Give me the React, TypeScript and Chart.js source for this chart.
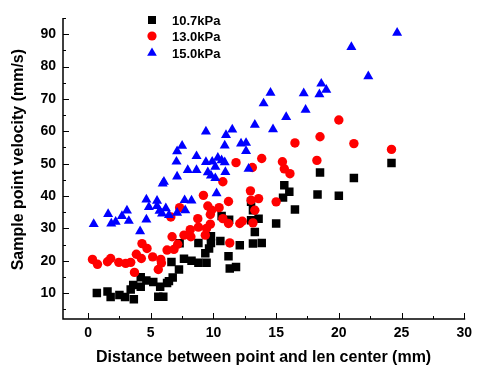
import React, { useEffect, useRef } from 'react';
import { Chart, registerables } from 'chart.js';

Chart.register(...registerables);

const FONT = '"Liberation Sans", Arial, Helvetica, sans-serif';

const seriesLabels = ['10.7kPa', '13.0kPa', '15.0kPa'];
const seriesColors = ['#000000', '#FF0000', '#0000FF'];

const xTitle = 'Distance between point and len center (mm)';
const yTitle = '\u00A0\u00A0\u00A0\u00A0Sample point velocity (mm/s)';

const xMin = -2;
const xMax = 30;
const xStep = 5;
const yMin = 2;
const yMax = 95;
const yStep = 10;

// 10.7 kPa (black squares)
const x107 = [0.7, 1.55, 1.8, 2.5, 2.95, 3.65, 3.4, 3.6, 4.2, 4.2, 4.65, 5.2, 5.75, 5.6, 6.0, 6.3, 6.45, 6.75, 6.65, 7.25, 7.65, 7.3, 8.25, 8.8, 8.8, 9.35, 9.45, 9.65, 9.8, 9.8, 10.55, 11.2, 11.3, 11.8, 12.1, 13.15, 13.85, 13.3, 13.0, 13.15, 13.6, 10.65, 11.25, 15.0, 16.5, 13.0, 15.55, 16.05, 15.65, 18.3, 20.0, 18.5, 21.2, 24.2];
const y107 = [10.0, 10.5, 8.8, 9.4, 8.8, 8.1, 11.1, 12.5, 14.9, 12.0, 13.9, 13.4, 12.0, 8.9, 8.9, 13.1, 13.7, 14.8, 19.6, 17.3, 20.6, 25.4, 20.0, 19.4, 25.5, 22.3, 19.4, 23.8, 25.5, 27.6, 26.1, 21.4, 17.6, 18.1, 24.8, 25.3, 25.5, 28.9, 32.5, 35.6, 33.0, 33.8, 32.7, 31.5, 35.8, 38.2, 39.5, 41.3, 43.3, 40.5, 40.1, 47.3, 45.6, 50.2];

// 13.0 kPa (red circles)
const x130 = [0.35, 0.75, 1.55, 1.8, 2.45, 3.0, 3.4, 3.7, 3.85, 4.25, 4.3, 4.7, 5.15, 5.6, 5.8, 5.85, 6.3, 6.7, 6.85, 7.15, 7.65, 8.15, 8.2, 8.8, 9.35, 9.45, 9.75, 8.75, 6.6, 7.3, 9.55, 9.85, 9.75, 10.45, 10.75, 11.2, 11.3, 11.2, 12.1, 12.3, 13.15, 13.3, 13.0, 13.6, 12.95, 15.0, 9.2, 10.75, 11.8, 13.1, 13.85, 15.5, 15.65, 16.1, 16.5, 18.25, 18.5, 20.0, 21.2, 24.2];
const y130 = [20.4, 18.9, 19.7, 20.7, 19.5, 19.2, 19.5, 16.4, 22.0, 20.7, 25.3, 23.8, 21.2, 17.3, 20.4, 19.3, 23.3, 27.4, 23.5, 25.1, 27.9, 29.6, 27.4, 30.4, 27.9, 30.0, 31.3, 33.0, 33.5, 36.4, 36.9, 35.6, 34.3, 36.4, 33.0, 38.3, 25.5, 31.5, 31.5, 32.2, 31.7, 35.6, 38.7, 39.2, 41.6, 38.2, 40.2, 44.4, 50.3, 48.8, 51.6, 50.6, 48.4, 46.9, 56.4, 51.0, 58.3, 63.5, 56.2, 54.4];

// 15.0 kPa (blue triangles)
const x150 = [0.45, 1.6, 1.85, 2.2, 2.7, 3.1, 3.25, 4.15, 4.65, 4.65, 4.85, 5.5, 5.5, 5.7, 5.9, 6.05, 5.95, 6.2, 6.45, 7.1, 7.75, 7.7, 8.25, 7.1, 7.05, 7.1, 7.5, 7.95, 8.65, 8.65, 9.4, 9.4, 9.55, 9.8, 9.9, 10.15, 10.15, 10.25, 10.35, 10.65, 10.9, 10.95, 10.9, 11.0, 11.5, 12.2, 12.6, 12.6, 12.8, 13.3, 14.75, 15.8, 14.0, 14.55, 17.2, 17.35, 18.45, 18.6, 19.0, 21.0, 22.35, 24.65];
const y150 = [31.3, 34.4, 31.5, 32.0, 33.8, 35.5, 32.3, 29.1, 32.7, 38.9, 36.6, 38.5, 36.9, 35.4, 34.6, 44.4, 43.8, 36.2, 34.1, 34.8, 35.6, 38.7, 38.6, 46.0, 50.6, 53.8, 55.5, 48.0, 48.0, 52.3, 59.9, 50.5, 47.3, 46.3, 50.6, 49.0, 45.5, 40.8, 51.8, 51.0, 50.4, 47.4, 55.6, 58.8, 60.5, 56.2, 56.4, 53.9, 48.4, 62.0, 60.6, 64.4, 68.6, 71.9, 71.7, 66.6, 71.4, 74.7, 72.8, 86.0, 77.0, 90.4];

const toPoints = (xs: number[], ys: number[]) => xs.map((x, i) => ({ x, y: ys[i] }));

const axisPlugin = {
  id: 'axisTicks',
  afterDraw(chart: any) {
    const { ctx, chartArea: a, scales } = chart;
    const xs = scales.x;
    const ys = scales.y;
    ctx.save();
    ctx.strokeStyle = '#000';
    ctx.lineWidth = 1.5;
    ctx.beginPath();
    ctx.moveTo(a.left, a.top);
    ctx.lineTo(a.left, a.bottom);
    ctx.lineTo(a.right + 1, a.bottom);
    ctx.stroke();
    ctx.lineWidth = 1;
    ctx.beginPath();
    for (let v = 0; v <= xMax + 1e-9; v += xStep / 2) {
      const p = Math.round(xs.getPixelForValue(v)) + 0.5;
      const len = Math.abs(v % xStep) < 1e-9 ? 6 : 3;
      ctx.moveTo(p, a.bottom);
      ctx.lineTo(p, a.bottom - len);
    }
    for (let v = 5; v <= yMax + 1e-9; v += yStep / 2) {
      const p = Math.round(ys.getPixelForValue(v)) + 0.5;
      const len = Math.abs(v % yStep) < 1e-9 ? 6 : 3;
      ctx.moveTo(a.left, p);
      ctx.lineTo(a.left + len, p);
    }
    ctx.stroke();
    ctx.restore();
  },
};

const legendPlugin = {
  id: 'insideLegend',
  afterDraw(chart: any) {
    const { ctx, chartArea: a } = chart;
    const mx = a.left + 89;
    const rows = [a.top + 2, a.top + 18, a.top + 35];
    ctx.save();
    ctx.font = `bold 13px ${FONT}`;
    ctx.textBaseline = 'middle';
    ctx.textAlign = 'left';
    rows.forEach((y, i) => {
      ctx.fillStyle = seriesColors[i];
      ctx.beginPath();
      if (i === 0) {
        ctx.rect(mx - 4, y - 4, 8, 8);
      } else if (i === 1) {
        ctx.arc(mx, y, 4.6, 0, Math.PI * 2);
      } else {
        const r = 5.6;
        ctx.moveTo(mx, y - r);
        ctx.lineTo(mx + r * 0.866, y + r * 0.5);
        ctx.lineTo(mx - r * 0.866, y + r * 0.5);
        ctx.closePath();
      }
      ctx.fill();
      ctx.fillStyle = '#000';
      ctx.fillText(seriesLabels[i], mx + 20, y + 1);
    });
    ctx.restore();
  },
};

export default function App() {
  const ref = useRef<HTMLCanvasElement | null>(null);

  useEffect(() => {
    if (!ref.current) return;
    const tickFont = { family: FONT, size: 14, weight: 'bold' as const };
    const titleFont = { family: FONT, size: 16, weight: 'bold' as const };
    const chart = new Chart(ref.current, {
      type: 'scatter',
      data: {
        datasets: [
          {
            label: seriesLabels[0],
            data: toPoints(x107, y107),
            pointStyle: 'rect',
            pointRadius: 6,
            borderWidth: 0,
            backgroundColor: seriesColors[0],
            borderColor: seriesColors[0],
            order: 2,
          },
          {
            label: seriesLabels[1],
            data: toPoints(x130, y130),
            pointStyle: 'circle',
            pointRadius: 4.7,
            borderWidth: 0,
            backgroundColor: seriesColors[1],
            borderColor: seriesColors[1],
            order: 1,
          },
          {
            label: seriesLabels[2],
            data: toPoints(x150, y150),
            pointStyle: 'triangle',
            pointRadius: 5.8,
            borderWidth: 0,
            backgroundColor: seriesColors[2],
            borderColor: seriesColors[2],
            order: 0,
          },
        ],
      },
      options: {
        responsive: false,
        animation: false,
        events: [],
        layout: { padding: { top: 18, right: 10, left: 0, bottom: 0 } },
        plugins: {
          legend: { display: false },
          tooltip: { enabled: false },
        },
        scales: {
          x: {
            type: 'linear',
            min: xMin,
            max: xMax,
            grid: { display: false, drawTicks: false },
            border: { display: false },
            ticks: {
              stepSize: xStep,
              includeBounds: false,
              font: tickFont,
              color: '#000',
              padding: 6,
              maxRotation: 0,
            },
            title: {
              display: true,
              text: xTitle,
              font: titleFont,
              color: '#000',
              padding: { top: 0, bottom: 0 },
            },
            afterFit(s: any) {
              s.height = 48;
            },
          },
          y: {
            type: 'linear',
            min: yMin,
            max: yMax,
            grid: { display: false, drawTicks: false },
            border: { display: false },
            ticks: {
              stepSize: yStep,
              includeBounds: false,
              font: tickFont,
              color: '#000',
              padding: 7,
            },
            title: {
              display: true,
              text: yTitle,
              font: titleFont,
              color: '#000',
              padding: { top: 9, bottom: 0 },
            },
            afterFit(s: any) {
              s.width = 63;
            },
          },
        },
      },
      plugins: [axisPlugin, legendPlugin],
    });
    return () => chart.destroy();
  }, []);

  return (
    <div style={{ position: 'fixed', left: 0, top: 0, width: 478, height: 367, background: '#fff' }}>
      <canvas ref={ref} width={478} height={367} style={{ display: 'block' }} />
    </div>
  );
}
